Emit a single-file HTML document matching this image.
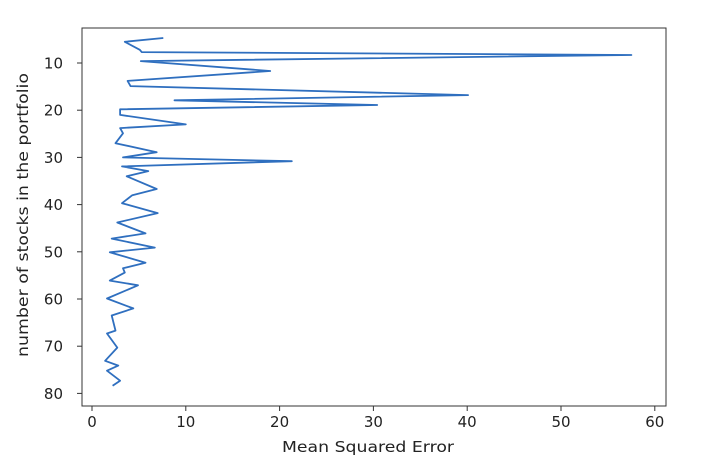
<!DOCTYPE html>
<html><head><meta charset="utf-8"><style>
body{margin:0;background:#fff;}
svg text{font-family:"DejaVu Sans","Liberation Sans",sans-serif;fill:#222;}
</style></head><body>
<svg width="713" height="471" viewBox="0 0 713 471" id="chart">
<rect x="82" y="28" width="584" height="378" fill="none" stroke="#333" stroke-width="1"/>
<g id="xt"></g><g id="yt"></g>
<polyline id="line" fill="none" stroke="#2f6fbf" stroke-width="1.8" stroke-linejoin="round"/>
<text x="368" y="452" text-anchor="middle" font-size="15" textLength="172" lengthAdjust="spacingAndGlyphs">Mean Squared Error</text>
<text transform="translate(28,215) rotate(-90)" text-anchor="middle" font-size="15" textLength="284" lengthAdjust="spacingAndGlyphs">number of stocks in the portfolio</text>
</svg>
<script>
const stocks=[4.7,5.5,7.2,7.7,8.3,9.6,11.7,13.8,14.9,16.8,17.9,18.9,19.8,21.0,23.0,23.8,24.9,27.0,28.9,30.0,30.8,31.9,32.9,34.0,36.7,38.0,39.7,41.8,43.8,46.1,47.2,49.1,50.1,52.3,53.5,54.4,56.1,57.1,59.9,62.0,63.5,66.7,67.3,70.3,73.1,74.1,75.2,77.3,78.4];
const mse=[7.6,3.5,5.1,5.3,57.5,5.2,19.0,3.8,4.1,40.1,8.8,30.4,3.0,3.0,10.0,3.0,3.3,2.5,6.9,3.3,21.3,3.2,6.0,3.7,6.9,4.3,3.2,7.0,2.7,5.7,2.1,6.7,1.9,5.7,3.3,3.5,1.9,4.9,1.6,4.4,2.1,2.5,1.6,2.7,1.4,2.8,1.6,3.0,2.2];
const xTicks=[0,10,20,30,40,50,60];
const yTicks=[10,20,30,40,50,60,70,80];
const xs=v=>92+9.38*v;
const ys=n=>63+4.72*(n-10);
const NS="http://www.w3.org/2000/svg";
const xt=document.getElementById('xt'),yt=document.getElementById('yt');
xTicks.forEach(t=>{
 const l=document.createElementNS(NS,'line');
 l.setAttribute('x1',xs(t));l.setAttribute('x2',xs(t));l.setAttribute('y1',406);l.setAttribute('y2',411);l.setAttribute('stroke','#333');
 
 
 xt.appendChild(l);
 const tx=document.createElementNS(NS,'text');
 tx.setAttribute('x',xs(t));tx.setAttribute('y',427);tx.setAttribute('text-anchor','middle');tx.setAttribute('font-size','15');
 tx.textContent=t;
 
 
 xt.appendChild(tx);
});
yTicks.forEach(t=>{
 const l=document.createElementNS(NS,'line');
 l.setAttribute('x1',77);l.setAttribute('x2',82);l.setAttribute('y1',ys(t));l.setAttribute('y2',ys(t));l.setAttribute('stroke','#333');
 
 
 yt.appendChild(l);
 const tx=document.createElementNS(NS,'text');
 tx.setAttribute('x',63);tx.setAttribute('y',ys(t)+5.5);tx.setAttribute('text-anchor','end');tx.setAttribute('font-size','15');
 tx.textContent=t;
 
 
 yt.appendChild(tx);
});
document.getElementById('line').setAttribute('points',stocks.map((n,i)=>xs(mse[i]).toFixed(1)+','+ys(n).toFixed(1)).join(' '));
</script>
</body></html>
